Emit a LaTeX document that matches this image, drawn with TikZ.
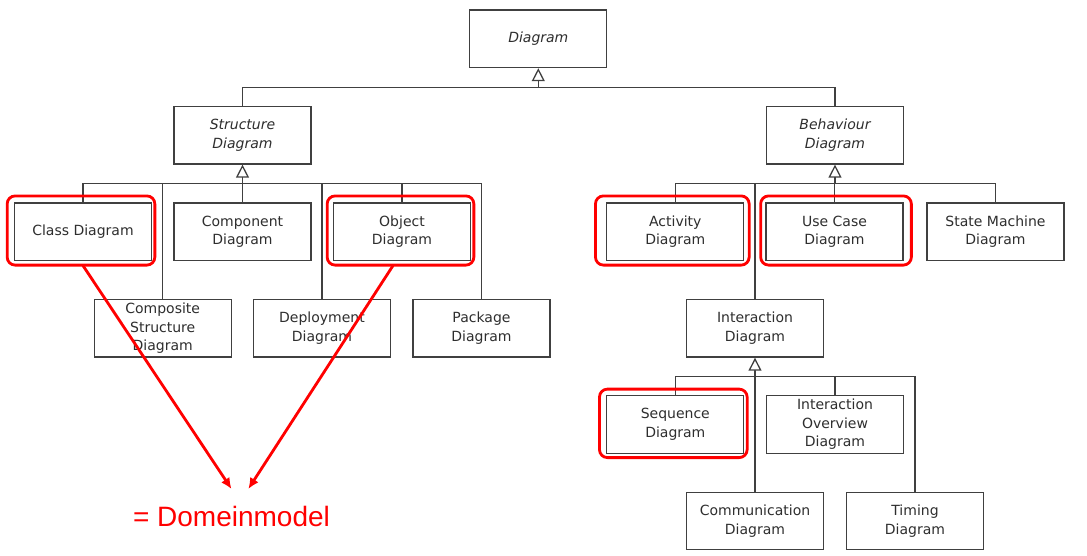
\documentclass[tikz,border=0pt]{standalone}
\usepackage{fontspec}
\setmainfont{DejaVu Sans}
\newfontfamily\redfont{Liberation Sans}
\usetikzlibrary{arrows.meta}
\definecolor{uline}{HTML}{404040}
\definecolor{utext}{HTML}{2E2E2E}
\definecolor{hl}{HTML}{FF0000}
\begin{document}
\begin{tikzpicture}[x=1pt,y=-1pt,
  umlbox/.style={draw=uline, line width=1.3pt, fill=white, minimum width=137pt, minimum height=57.5pt, inner sep=1pt, align=center, text=utext, font=\fontsize{14}{18.5}\selectfont},
  abstractbox/.style={umlbox, font=\fontsize{14}{18.5}\selectfont\itshape},
  conn/.style={draw=uline, line width=1.3pt},
  gen/.style={conn, -{Triangle[length=13pt,width=13pt,fill=white]}},
  redbox/.style={draw=hl, line width=2.8pt, rounded corners=8pt},
  redarrow/.style={draw=hl, line width=2.8pt, -{Latex[length=11pt,width=10pt]}}
]
\useasboundingbox (0,0) rectangle (1087,555);

% nodes
\node[abstractbox] (diag) at (538.3,38.8) {Diagram};
\node[abstractbox] (struct) at (242.5,135.2) {Structure\\Diagram};
\node[abstractbox] (behav) at (835,135.2) {Behaviour\\Diagram};

\node[umlbox] (class) at (83,231.7) {Class Diagram};
\node[umlbox] (comp) at (242.5,231.7) {Component\\Diagram};
\node[umlbox] (obj) at (402,231.7) {Object\\Diagram};
\node[umlbox] (composite) at (162.7,328.3) {Composite\\Structure\\Diagram};
\node[umlbox] (deploy) at (322,328.3) {Deployment\\Diagram};
\node[umlbox] (package) at (481.5,328.3) {Package\\Diagram};

\node[umlbox] (activity) at (675.3,231.7) {Activity\\Diagram};
\node[umlbox] (usecase) at (834.5,231.7) {Use Case\\Diagram};
\node[umlbox] (state) at (995.5,231.7) {State Machine\\Diagram};
\node[umlbox] (interaction) at (755,328.3) {Interaction\\Diagram};
\node[umlbox] (sequence) at (675.3,424.5) {Sequence\\Diagram};
\node[umlbox] (overview) at (835,424.5) {Interaction\\Overview\\Diagram};
\node[umlbox] (comm) at (755,521) {Communication\\Diagram};
\node[umlbox] (timing) at (915,521) {Timing\\Diagram};

% bus points
\coordinate (bt) at (538.3,87.3);
\coordinate (bs) at (242.5,183.3);
\coordinate (bb) at (835,183.3);
\coordinate (bi) at (755,376.3);

% top level
\draw[conn] (struct.north) |- (bt) -| (behav.north);
\draw[gen] (bt) -- (diag.south);

% structure
\draw[conn] (class.north) |- (bs) -| (package.north);
\draw[conn] (composite.north) -- (composite.north |- bs);
\draw[conn] (deploy.north) -- (deploy.north |- bs);
\draw[conn] (obj.north) -- (obj.north |- bs);
\draw[conn] (comp.north) -- (bs);
\draw[gen] (bs) -- (struct.south);

% behaviour
\draw[conn] (activity.north) |- (bb) -| (state.north);
\draw[conn] (interaction.north) -- (interaction.north |- bb);
\draw[conn] (usecase.north) -- (usecase.north |- bb);
\draw[gen] (bb) -- (behav.south);

% interaction
\draw[conn] (sequence.north) |- (bi) -| (timing.north);
\draw[conn] (overview.north) -- (overview.north |- bi);
\draw[conn] (comm.north) -- (bi);
\draw[gen] (bi) -- (interaction.south);

% red highlight boxes
\draw[redbox] ([shift={(-6.7,-6.4)}]class.north west) rectangle ([shift={(2.7,4)}]class.south east);
\draw[redbox] ([shift={(-5.7,-6.4)}]obj.north west) rectangle ([shift={(2.7,4)}]obj.south east);
\draw[redbox] ([shift={(-10.7,-6.4)}]activity.north west) rectangle ([shift={(4.7,4)}]activity.south east);
\draw[redbox] ([shift={(-4.7,-6.4)}]usecase.north west) rectangle ([shift={(7.7,4)}]usecase.south east);
\draw[redbox] ([shift={(-6.7,-6)}]sequence.north west) rectangle ([shift={(2.7,3.7)}]sequence.south east);

% red arrows and label
\coordinate (startL) at ([shift={(0,4.5)}]class.south);
\coordinate (startR) at ([shift={(-9,4.5)}]obj.south);
\coordinate (dmL) at (231.5,489);
\coordinate (dmR) at (248.3,489);
\draw[redarrow] (startL) -- (dmL);
\draw[redarrow] (startR) -- (dmR);
\node[text=hl, font=\redfont\fontsize{28}{32}\selectfont, anchor=base, inner sep=0pt] (dm) at (231.5,526) {= Domeinmodel};
\end{tikzpicture}
\end{document}
